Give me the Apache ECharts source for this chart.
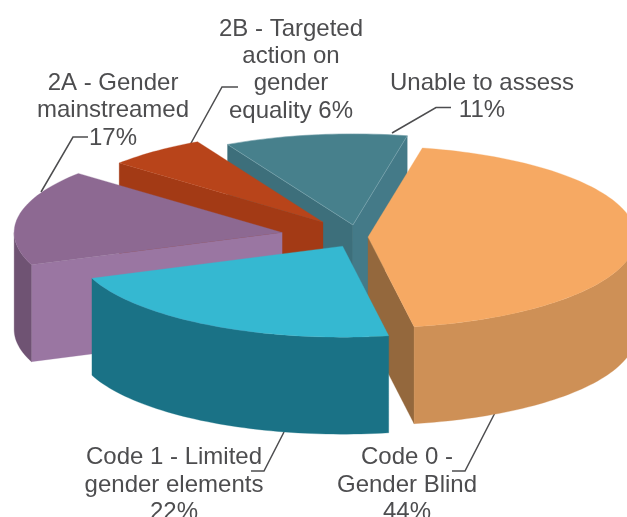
<!DOCTYPE html>
<html>
<head>
<meta charset="utf-8">
<style>html,body{margin:0;padding:0;background:#fff}#c{width:627px;height:517px}</style>
<script src="https://cdn.jsdelivr.net/npm/echarts@6/dist/echarts.min.js"></script>
</head>
<body>
<div id="c"></div>
<script>
// ---- data (clockwise from the orange slice) ----
const categories = ['Code 0 - Gender Blind', 'Code 1 - Limited gender elements', '2A - Gender mainstreamed', '2B - Targeted action on gender equality', 'Unable to assess'];
const values = [44, 22, 17, 6, 11];
const labelLines = [
  ['Code 0 -', 'Gender Blind', '44%'],
  ['Code 1 - Limited', 'gender elements', '22%'],
  ['2A - Gender', 'mainstreamed', '17%'],
  ['2B - Targeted', 'action on', 'gender', 'equality 6%'],
  ['Unable to assess', '11%']
];

// ---- styling / layout ----
const explode = [10, 31, 77, 56, 36];
const drawOrder = [4, 3, 2, 0, 1];
const colors = [
  {top: '#f6a963', outer: '#ce9056', start: '#94683d', end: '#94683d'},
  {top: '#35b8d1', outer: '#1a7286', start: '#1a7286', end: '#1a7286'},
  {top: '#8d6992', outer: '#6f5373', start: '#9a76a2', end: '#9a76a2'},
  {top: '#b8441a', outer: '#a33a15', start: '#a33a15', end: '#a33a15'},
  {top: '#47808c', outer: '#447a88', start: '#3d6f7b', end: '#447a88', edge: '#7ba5ae'}
];
const view = {cx: 358, cy: 237, rx: 268, ry: 91, depth: 97, tilt: 0.34, startDeg: -78.3};
const labelPos = [
  {x: 407, y: 457.5, lh: 27.5}, {x: 174, y: 457.5, lh: 27.5}, {x: 113, y: 83, lh: 27.5},
  {x: 291, y: 29, lh: 27.3}, {x: 482, y: 83, lh: 27.5}
];
const leaders = [
  [[499, 405], [465, 471], [452, 471]],
  [[284, 432], [264, 471], [251, 471]],
  [[41, 192], [73, 137], [88, 137]],
  [[190, 145], [222, 87], [238, 87]],
  [[392, 133], [436, 107.5], [451, 107.5]]
];

const total = values.reduce((a, b) => a + b, 0);
const rad = d => d * Math.PI / 180;
const slices = [];
let acc = view.startDeg;
values.forEach((v, i) => {
  const a0 = acc, a1 = acc + v / total * 360;
  acc = a1;
  const m = rad((a0 + a1) / 2);
  slices.push({a0, a1,
    ax: view.cx + explode[i] * Math.cos(m),
    ay: view.cy + explode[i] * view.tilt * Math.sin(m)});
});

function renderItem(params) {
  const i = drawOrder[params.dataIndex];
  const s = slices[i], c = colors[i], D = view.depth;
  const pt = d => [s.ax + view.rx * Math.cos(rad(d)), s.ay + view.ry * Math.sin(rad(d))];
  const arc = (a, b) => {
    const out = [], n = Math.max(2, Math.ceil((b - a) / 1.5));
    for (let k = 0; k <= n; k++) out.push(pt(a + (b - a) * k / n));
    return out;
  };
  const down = p => [p[0], p[1] + D];
  const poly = (points, fill, stroke) => ({type: 'polygon', silent: true,
    shape: {points},
    style: {fill, stroke: stroke || fill, lineWidth: stroke ? 0.6 : 0.3}});
  const apex = [s.ax, s.ay];
  const kids = [];
  // radial walls that face the viewer
  if (Math.sin(rad(s.a0 - 90)) > 0) {
    const e = pt(s.a0);
    kids.push(poly([apex, e, down(e), down(apex)], c.start));
  }
  if (Math.sin(rad(s.a1 + 90)) > 0) {
    const e = pt(s.a1);
    kids.push(poly([apex, e, down(e), down(apex)], c.end));
  }
  // curved outer wall, front part only
  const lo = Math.max(s.a0, 0), hi = Math.min(s.a1, 180);
  if (hi > lo) {
    const o = arc(lo, hi);
    kids.push(poly(o.concat(o.slice().reverse().map(down)), c.outer));
  }
  // top face
  kids.push(poly([apex].concat(arc(s.a0, s.a1)), c.top, c.edge));
  return {type: 'group', children: kids};
}

const textColor = '#4d4d4f';
const graphics = [];
leaders.forEach(points => graphics.push({type: 'polyline', silent: true, z: 1,
  shape: {points}, style: {stroke: '#4d4d4f', lineWidth: 1.5, fill: null}}));
labelLines.forEach((lines, i) => lines.forEach((t, k) => graphics.push({
  type: 'text', silent: true, z: 3,
  x: labelPos[i].x, y: labelPos[i].y + k * labelPos[i].lh,
  style: {text: t, fill: textColor, font: '24px "Liberation Sans", Arial, sans-serif',
    align: 'center', verticalAlign: 'middle'}
})));

const chart = echarts.init(document.getElementById('c'), null, {renderer: 'canvas'});
chart.setOption({
  animation: false,
  backgroundColor: '#ffffff',
  graphic: graphics,
  series: [{
    type: 'custom',
    coordinateSystem: 'none',
    renderItem,
    silent: true,
    z: 2,
    data: drawOrder.map(i => ({name: categories[i], value: [values[i]]}))
  }]
});
</script>
</body>
</html>
